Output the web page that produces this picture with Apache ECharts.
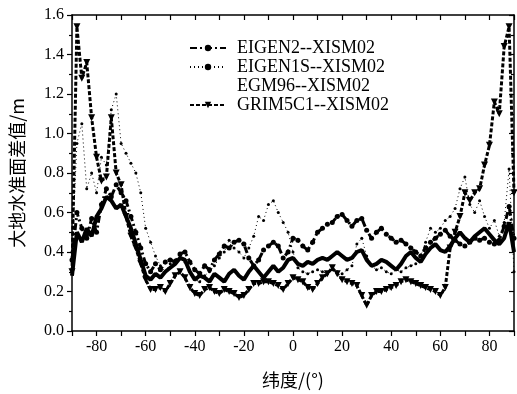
<!DOCTYPE html>
<html>
<head>
<meta charset="utf-8">
<script src="https://cdn.jsdelivr.net/npm/echarts@6/dist/echarts.min.js"></script>
<style>
  html, body { margin: 0; padding: 0; background: #fff; }
  #chart { width: 517px; height: 394px; }
</style>
</head>
<body>
<div id="chart"></div>
<script>
// 纬度 (每2度一个点)
var latitudes = [-90, -88, -86, -84, -82, -80, -78, -76, -74, -72, -70, -68, -66, -64, -62, -60,
  -58, -56, -54, -52, -50, -48, -46, -44, -42, -40, -38, -36, -34, -32, -30, -28, -26, -24, -22, -20,
  -18, -16, -14, -12, -10, -8, -6, -4, -2, 0, 2, 4, 6, 8, 10, 12, 14, 16, 18, 20, 22, 24, 26, 28, 30,
  32, 34, 36, 38, 40, 42, 44, 46, 48, 50, 52, 54, 56, 58, 60, 62, 64, 66, 68, 70, 72, 74, 76, 78, 80,
  82, 84, 86, 88, 90]

var seriesNames = ['EIGEN2--XISM02', 'EIGEN1S--XISM02', 'EGM96--XISM02', 'GRIM5C1--XISM02']

// 大地水准面差值 /m
var eigen2 = [0.36, 0.60, 0.52, 0.47, 0.57, 0.50, 0.64, 0.72, 0.68, 0.74, 0.70, 0.66, 0.58, 0.50, 0.42, 0.34,
  0.30, 0.34, 0.31, 0.35, 0.36, 0.35, 0.39, 0.40, 0.35, 0.31, 0.29, 0.33, 0.31, 0.36, 0.39, 0.43, 0.42, 0.45, 0.46, 0.44,
  0.37, 0.33, 0.36, 0.41, 0.43, 0.45, 0.43, 0.37, 0.40, 0.47, 0.46, 0.43, 0.41, 0.45, 0.50, 0.52, 0.54, 0.55, 0.58, 0.59,
  0.56, 0.53, 0.56, 0.57, 0.51, 0.47, 0.50, 0.52, 0.49, 0.47, 0.45, 0.46, 0.44, 0.42, 0.40, 0.38, 0.42, 0.45, 0.47, 0.49,
  0.51, 0.48, 0.46, 0.44, 0.43, 0.45, 0.47, 0.46, 0.47, 0.45, 0.44, 0.46, 0.53, 0.63, 0.47]

var eigen1s = [0.40, 0.95, 1.05, 0.72, 0.80, 0.70, 0.88, 0.84, 1.12, 1.20, 0.95, 0.90, 0.85, 0.80, 0.70, 0.52,
  0.45, 0.38, 0.33, 0.30, 0.34, 0.36, 0.38, 0.35, 0.30, 0.26, 0.25, 0.28, 0.30, 0.33, 0.37, 0.40, 0.46, 0.42, 0.40, 0.37,
  0.42, 0.48, 0.58, 0.56, 0.64, 0.66, 0.60, 0.55, 0.50, 0.40, 0.32, 0.30, 0.29, 0.30, 0.31, 0.30, 0.29, 0.31, 0.30, 0.29,
  0.31, 0.33, 0.44, 0.47, 0.38, 0.33, 0.31, 0.32, 0.30, 0.29, 0.31, 0.30, 0.32, 0.33, 0.34, 0.38, 0.45, 0.52, 0.50, 0.52,
  0.56, 0.58, 0.62, 0.72, 0.78, 0.64, 0.60, 0.66, 0.58, 0.52, 0.56, 0.48, 0.55, 0.82, 0.30]

var egm96 = [0.28, 0.50, 0.45, 0.52, 0.48, 0.58, 0.62, 0.68, 0.66, 0.62, 0.64, 0.58, 0.52, 0.44, 0.36, 0.28,
  0.26, 0.29, 0.27, 0.30, 0.32, 0.34, 0.37, 0.36, 0.30, 0.26, 0.28, 0.27, 0.25, 0.29, 0.27, 0.25, 0.29, 0.31, 0.28, 0.26,
  0.30, 0.33, 0.30, 0.27, 0.30, 0.33, 0.30, 0.32, 0.36, 0.37, 0.34, 0.33, 0.35, 0.34, 0.36, 0.37, 0.36, 0.38, 0.40, 0.38,
  0.36, 0.37, 0.40, 0.41, 0.36, 0.33, 0.34, 0.36, 0.35, 0.33, 0.31, 0.34, 0.38, 0.40, 0.37, 0.35, 0.39, 0.42, 0.44, 0.41,
  0.40, 0.43, 0.47, 0.50, 0.47, 0.45, 0.48, 0.50, 0.52, 0.49, 0.46, 0.44, 0.47, 0.55, 0.40]

var grim5c1 = [0.30, 1.54, 1.28, 1.36, 1.08, 0.88, 0.76, 0.78, 1.08, 0.80, 0.74, 0.58, 0.48, 0.42, 0.34, 0.26,
  0.21, 0.21, 0.22, 0.20, 0.24, 0.28, 0.30, 0.27, 0.22, 0.19, 0.18, 0.21, 0.22, 0.20, 0.19, 0.21, 0.20, 0.19, 0.17, 0.18,
  0.21, 0.24, 0.24, 0.25, 0.25, 0.24, 0.23, 0.21, 0.24, 0.27, 0.26, 0.25, 0.22, 0.21, 0.24, 0.27, 0.29, 0.32, 0.29, 0.26,
  0.25, 0.24, 0.23, 0.18, 0.13, 0.18, 0.20, 0.20, 0.21, 0.22, 0.23, 0.25, 0.26, 0.25, 0.24, 0.23, 0.22, 0.21, 0.20, 0.18,
  0.22, 0.42, 0.50, 0.58, 0.70, 0.66, 0.70, 0.72, 0.84, 0.94, 1.16, 1.10, 1.44, 1.54, 0.70]

function pairs (values) {
  return latitudes.map(function (lat, i) {
    return [lat, values[i]]
  })
}

var chart = echarts.init(document.getElementById('chart'))
chart.setOption(getOptions())

function getOptions () {
  var serif = 'Liberation Serif'
  var cjk = 'Noto Sans CJK SC'
  var black = '#000'
  var axisLine = { show: true, onZero: false, lineStyle: { color: black, width: 1.5 } }

  return {
    animation: false,
    color: [black, black, black, black],
    grid: { left: 65, right: 2, top: 15, bottom: 63 },
    legend: {
      orient: 'vertical',
      left: 184,
      top: 34,
      itemWidth: 36,
      itemHeight: 8,
      itemGap: 1,
      textStyle: { fontFamily: serif, fontSize: 18, color: black, padding: [0, 0, 0, 6] },
      data: [
        { name: seriesNames[0] },
        { name: seriesNames[1] },
        { name: seriesNames[2], itemStyle: { opacity: 0 }, lineStyle: { opacity: 0 } },
        { name: seriesNames[3] }
      ]
    },
    xAxis: [{
      type: 'value',
      min: -90,
      max: 90,
      interval: 10,
      position: 'bottom',
      name: '纬度/(°)',
      nameLocation: 'middle',
      nameGap: 40,
      nameTextStyle: { fontFamily: cjk, fontSize: 18, color: black },
      axisLine: axisLine,
      axisTick: { length: 5, lineStyle: { color: black, width: 1.2 } },
      axisLabel: {
        margin: 8,
        fontFamily: serif,
        fontSize: 16,
        color: black,
        formatter: function (v) { return v % 20 === 0 ? String(v) : '' }
      },
      splitLine: { show: false }
    }, {
      type: 'value',
      min: -90,
      max: 90,
      interval: 10,
      position: 'top',
      axisLine: axisLine,
      axisTick: { inside: true, length: 5, lineStyle: { color: black, width: 1.2 } },
      axisLabel: { show: false },
      splitLine: { show: false }
    }],
    yAxis: [{
      type: 'value',
      min: 0,
      max: 1.6,
      interval: 0.2,
      position: 'left',
      name: '大地水准面差值/m',
      nameLocation: 'middle',
      nameGap: 46,
      nameTextStyle: { fontFamily: cjk, fontSize: 18, color: black },
      axisLine: axisLine,
      axisTick: { length: 5, lineStyle: { color: black, width: 1.2 } },
      minorTick: { show: true, splitNumber: 2, length: 3, lineStyle: { color: black, width: 1.2 } },
      axisLabel: {
        margin: 8,
        fontFamily: serif,
        fontSize: 16,
        color: black,
        formatter: function (v) { return v.toFixed(1) }
      },
      splitLine: { show: false }
    }, {
      type: 'value',
      min: 0,
      max: 1.6,
      interval: 0.2,
      position: 'right',
      axisLine: axisLine,
      axisTick: { inside: true, length: 5, lineStyle: { color: black, width: 1.2 } },
      minorTick: { show: true, splitNumber: 2, length: 3, lineStyle: { color: black, width: 1.2 } },
      axisLabel: { show: false },
      splitLine: { show: false }
    }],
    series: [{
      name: seriesNames[0],
      type: 'line',
      data: pairs(eigen2),
      symbol: 'circle',
      symbolSize: 5,
      showAllSymbol: true,
      itemStyle: { color: black },
      lineStyle: { color: black, width: 3, type: [7, 3, 2, 3] },
      z: 4
    }, {
      name: seriesNames[1],
      type: 'line',
      data: pairs(eigen1s),
      symbol: 'circle',
      symbolSize: 3,
      showAllSymbol: true,
      itemStyle: { color: black },
      lineStyle: { color: black, width: 1, type: [1, 3] },
      z: 3
    }, {
      name: seriesNames[2],
      type: 'line',
      data: pairs(egm96),
      symbol: 'none',
      lineStyle: { color: black, width: 4 },
      z: 2
    }, {
      name: seriesNames[3],
      type: 'line',
      data: pairs(grim5c1),
      symbol: 'triangle',
      symbolRotate: 180,
      symbolSize: 7,
      showAllSymbol: true,
      itemStyle: { color: black },
      lineStyle: { color: black, width: 3, type: [4, 2] },
      z: 5
    }]
  }
}
</script>
</body>
</html>
